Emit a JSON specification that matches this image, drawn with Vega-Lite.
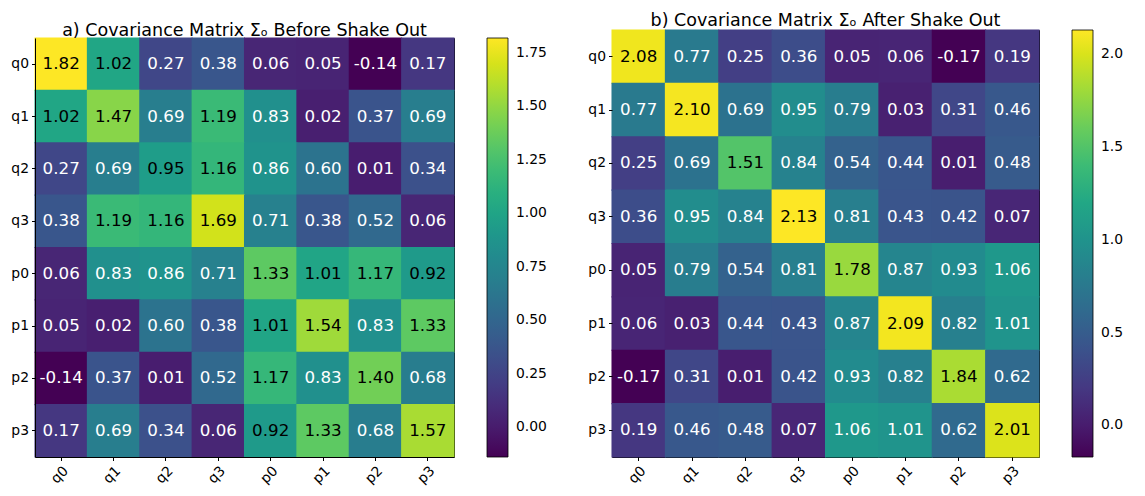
{
  "$schema": "https://vega.github.io/schema/vega-lite/v6.json",
  "background": "white",
  "padding": {"left": 10, "top": 11, "right": 5, "bottom": 5},
  "spacing": 40,
  "config": {
    "font": "DejaVu Sans",
    "locale": {"number": {"decimal": ".", "thousands": ",", "grouping": [3], "currency": ["$", ""], "minus": "-"}},
    "axis": {"labelFont": "DejaVu Sans", "labelFontSize": 13.9, "labelColor": "#000", "tickColor": "#000", "tickSize": 3.5, "labelPadding": 3, "domain": false, "domainColor": "#000", "domainWidth": 1, "grid": false, "title": null},
    "view": {"stroke": "#000", "strokeWidth": 1},
    "title": {"font": "DejaVu Sans", "fontSize": 17.5, "fontWeight": "normal", "color": "#000", "anchor": "middle"},
    "legend": {"labelFont": "DejaVu Sans", "labelFontSize": 13.9, "labelColor": "#000", "padding": 0}
  },
  "resolve": {"scale": {"color": "independent"}},
  "datasets": {
    "before": [
      {"r":"q0","c":"q0","v":1.82},{"r":"q0","c":"q1","v":1.02},{"r":"q0","c":"q2","v":0.27},{"r":"q0","c":"q3","v":0.38},{"r":"q0","c":"p0","v":0.06},{"r":"q0","c":"p1","v":0.05},{"r":"q0","c":"p2","v":-0.14},{"r":"q0","c":"p3","v":0.17},
      {"r":"q1","c":"q0","v":1.02},{"r":"q1","c":"q1","v":1.47},{"r":"q1","c":"q2","v":0.69},{"r":"q1","c":"q3","v":1.19},{"r":"q1","c":"p0","v":0.83},{"r":"q1","c":"p1","v":0.02},{"r":"q1","c":"p2","v":0.37},{"r":"q1","c":"p3","v":0.69},
      {"r":"q2","c":"q0","v":0.27},{"r":"q2","c":"q1","v":0.69},{"r":"q2","c":"q2","v":0.95},{"r":"q2","c":"q3","v":1.16},{"r":"q2","c":"p0","v":0.86},{"r":"q2","c":"p1","v":0.60},{"r":"q2","c":"p2","v":0.01},{"r":"q2","c":"p3","v":0.34},
      {"r":"q3","c":"q0","v":0.38},{"r":"q3","c":"q1","v":1.19},{"r":"q3","c":"q2","v":1.16},{"r":"q3","c":"q3","v":1.69},{"r":"q3","c":"p0","v":0.71},{"r":"q3","c":"p1","v":0.38},{"r":"q3","c":"p2","v":0.52},{"r":"q3","c":"p3","v":0.06},
      {"r":"p0","c":"q0","v":0.06},{"r":"p0","c":"q1","v":0.83},{"r":"p0","c":"q2","v":0.86},{"r":"p0","c":"q3","v":0.71},{"r":"p0","c":"p0","v":1.33},{"r":"p0","c":"p1","v":1.01},{"r":"p0","c":"p2","v":1.17},{"r":"p0","c":"p3","v":0.92},
      {"r":"p1","c":"q0","v":0.05},{"r":"p1","c":"q1","v":0.02},{"r":"p1","c":"q2","v":0.60},{"r":"p1","c":"q3","v":0.38},{"r":"p1","c":"p0","v":1.01},{"r":"p1","c":"p1","v":1.54},{"r":"p1","c":"p2","v":0.83},{"r":"p1","c":"p3","v":1.33},
      {"r":"p2","c":"q0","v":-0.14},{"r":"p2","c":"q1","v":0.37},{"r":"p2","c":"q2","v":0.01},{"r":"p2","c":"q3","v":0.52},{"r":"p2","c":"p0","v":1.17},{"r":"p2","c":"p1","v":0.83},{"r":"p2","c":"p2","v":1.40},{"r":"p2","c":"p3","v":0.68},
      {"r":"p3","c":"q0","v":0.17},{"r":"p3","c":"q1","v":0.69},{"r":"p3","c":"q2","v":0.34},{"r":"p3","c":"q3","v":0.06},{"r":"p3","c":"p0","v":0.92},{"r":"p3","c":"p1","v":1.33},{"r":"p3","c":"p2","v":0.68},{"r":"p3","c":"p3","v":1.57}
    ],
    "after": [
      {"r":"q0","c":"q0","v":2.08},{"r":"q0","c":"q1","v":0.77},{"r":"q0","c":"q2","v":0.25},{"r":"q0","c":"q3","v":0.36},{"r":"q0","c":"p0","v":0.05},{"r":"q0","c":"p1","v":0.06},{"r":"q0","c":"p2","v":-0.17},{"r":"q0","c":"p3","v":0.19},
      {"r":"q1","c":"q0","v":0.77},{"r":"q1","c":"q1","v":2.10},{"r":"q1","c":"q2","v":0.69},{"r":"q1","c":"q3","v":0.95},{"r":"q1","c":"p0","v":0.79},{"r":"q1","c":"p1","v":0.03},{"r":"q1","c":"p2","v":0.31},{"r":"q1","c":"p3","v":0.46},
      {"r":"q2","c":"q0","v":0.25},{"r":"q2","c":"q1","v":0.69},{"r":"q2","c":"q2","v":1.51},{"r":"q2","c":"q3","v":0.84},{"r":"q2","c":"p0","v":0.54},{"r":"q2","c":"p1","v":0.44},{"r":"q2","c":"p2","v":0.01},{"r":"q2","c":"p3","v":0.48},
      {"r":"q3","c":"q0","v":0.36},{"r":"q3","c":"q1","v":0.95},{"r":"q3","c":"q2","v":0.84},{"r":"q3","c":"q3","v":2.13},{"r":"q3","c":"p0","v":0.81},{"r":"q3","c":"p1","v":0.43},{"r":"q3","c":"p2","v":0.42},{"r":"q3","c":"p3","v":0.07},
      {"r":"p0","c":"q0","v":0.05},{"r":"p0","c":"q1","v":0.79},{"r":"p0","c":"q2","v":0.54},{"r":"p0","c":"q3","v":0.81},{"r":"p0","c":"p0","v":1.78},{"r":"p0","c":"p1","v":0.87},{"r":"p0","c":"p2","v":0.93},{"r":"p0","c":"p3","v":1.06},
      {"r":"p1","c":"q0","v":0.06},{"r":"p1","c":"q1","v":0.03},{"r":"p1","c":"q2","v":0.44},{"r":"p1","c":"q3","v":0.43},{"r":"p1","c":"p0","v":0.87},{"r":"p1","c":"p1","v":2.09},{"r":"p1","c":"p2","v":0.82},{"r":"p1","c":"p3","v":1.01},
      {"r":"p2","c":"q0","v":-0.17},{"r":"p2","c":"q1","v":0.31},{"r":"p2","c":"q2","v":0.01},{"r":"p2","c":"q3","v":0.42},{"r":"p2","c":"p0","v":0.93},{"r":"p2","c":"p1","v":0.82},{"r":"p2","c":"p2","v":1.84},{"r":"p2","c":"p3","v":0.62},
      {"r":"p3","c":"q0","v":0.19},{"r":"p3","c":"q1","v":0.46},{"r":"p3","c":"q2","v":0.48},{"r":"p3","c":"q3","v":0.07},{"r":"p3","c":"p0","v":1.06},{"r":"p3","c":"p1","v":1.01},{"r":"p3","c":"p2","v":0.62},{"r":"p3","c":"p3","v":2.01}
    ]
  },
  "hconcat": [
    {
      "title": {"text": "a) Covariance Matrix Σₒ Before Shake Out", "offset": -9},
      "width": 419,
      "height": 427,
      "view": {"stroke": null},
      "data": {"name": "before"},
      "resolve": {"axis": {"x": "independent", "y": "independent"}},
      "layer": [
        {
          "mark": {"type": "rect", "width": 53.4, "height": 53.4},
          "encoding": {
            "x": {"field": "c", "type": "ordinal", "sort": ["q0","q1","q2","q3","p0","p1","p2","p3"], "scale": {"paddingInner": 0, "paddingOuter": 0}, "axis": {"labelAngle": -45, "domain": true}},
            "y": {"field": "r", "type": "ordinal", "sort": ["q0","q1","q2","q3","p0","p1","p2","p3"], "scale": {"paddingInner": 0, "paddingOuter": 0, "range": [8, 427]}, "axis": {"domain": true}},
            "color": {"field": "v", "type": "quantitative", "scale": {"scheme": "viridis", "domain": [-0.14, 1.82]},
              "legend": {"type": "gradient", "direction": "vertical", "orient": "none", "legendX": 452, "legendY": 8, "title": null, "gradientLength": 419, "gradientThickness": 21, "gradientStrokeColor": "#000", "gradientStrokeWidth": 0.8, "values": [0, 0.25, 0.5, 0.75, 1, 1.25, 1.5, 1.75], "format": ".2f", "labelOverlap": false, "labelOffset": 8}}
          }
        },
        {
          "mark": {"type": "text", "fontSize": 16.7, "font": "DejaVu Sans"},
          "encoding": {
            "x": {"field": "c", "type": "ordinal", "sort": ["q0","q1","q2","q3","p0","p1","p2","p3"], "axis": {"orient": "top", "labels": false, "ticks": false, "domain": true, "offset": -8}},
            "y": {"field": "r", "type": "ordinal", "sort": ["q0","q1","q2","q3","p0","p1","p2","p3"], "axis": {"orient": "right", "labels": false, "ticks": false, "domain": true}},
            "text": {"field": "v", "type": "quantitative", "format": ".2f"},
            "color": {"condition": {"test": "datum.v > 0.91", "value": "#000"}, "value": "#fff"}
          }
        }
      ]
    },
    {
      "title": {"text": "b) Covariance Matrix Σₒ After Shake Out", "offset": 0},
      "width": 427,
      "height": 427,
      "data": {"name": "after"},
      "encoding": {
        "x": {"field": "c", "type": "ordinal", "sort": ["q0","q1","q2","q3","p0","p1","p2","p3"], "scale": {"paddingInner": 0, "paddingOuter": 0}, "axis": {"labelAngle": -45}},
        "y": {"field": "r", "type": "ordinal", "sort": ["q0","q1","q2","q3","p0","p1","p2","p3"], "scale": {"paddingInner": 0, "paddingOuter": 0}}
      },
      "layer": [
        {
          "mark": {"type": "rect", "width": 54.4, "height": 54.4},
          "encoding": {
            "color": {"field": "v", "type": "quantitative", "scale": {"scheme": "viridis", "domain": [-0.17, 2.13]},
              "legend": {"type": "gradient", "direction": "vertical", "title": null, "gradientLength": 427, "gradientThickness": 21, "gradientStrokeColor": "#000", "gradientStrokeWidth": 0.8, "values": [0, 0.5, 1, 1.5, 2], "format": ".1f", "labelOverlap": false, "labelOffset": 8, "offset": 33}}
          }
        },
        {
          "mark": {"type": "text", "fontSize": 16.7, "font": "DejaVu Sans"},
          "encoding": {
            "text": {"field": "v", "type": "quantitative", "format": ".2f"},
            "color": {"condition": {"test": "datum.v > 1.065", "value": "#000"}, "value": "#fff"}
          }
        }
      ]
    }
  ]
}
